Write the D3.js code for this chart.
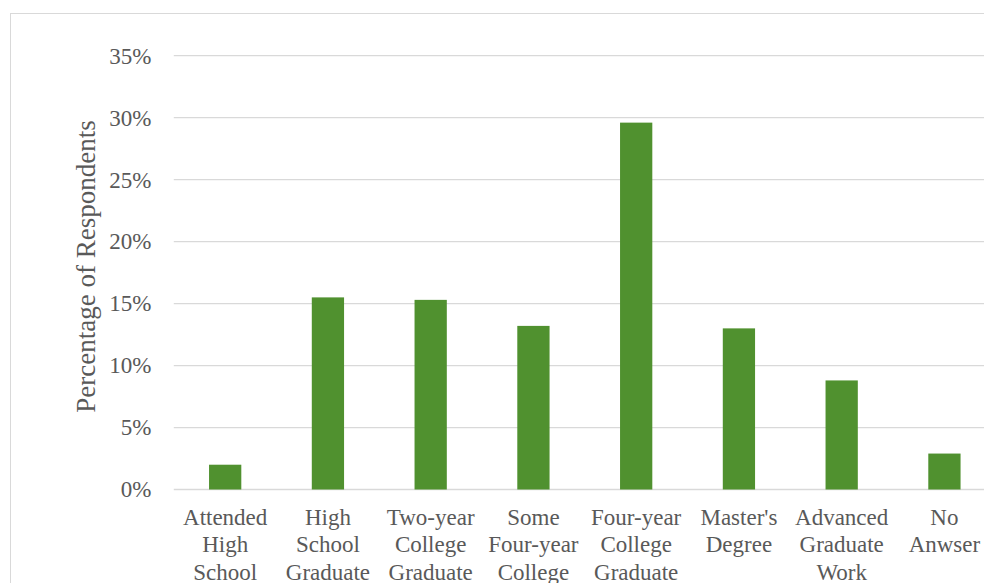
<!DOCTYPE html>
<html>
<head>
<meta charset="utf-8">
<script src="https://cdn.jsdelivr.net/npm/d3@7/dist/d3.min.js"></script>
<style>
  html, body { margin: 0; padding: 0; background: #fff; }
  svg { display: block; }
  text { font-family: "Liberation Serif", "Times New Roman", serif; fill: #595959; }
</style>
</head>
<body>
<svg id="chart" width="984" height="583"></svg>
<script>
// Education level of respondents
const categories = [
  "Attended High School",
  "High School Graduate",
  "Two-year College Graduate",
  "Some Four-year College",
  "Four-year College Graduate",
  "Master's Degree",
  "Advanced Graduate Work",
  "No Anwser"
];
// wrapped label lines for each category
const categoryLines = [
  ["Attended", "High", "School"],
  ["High", "School", "Graduate"],
  ["Two-year", "College", "Graduate"],
  ["Some", "Four-year", "College"],
  ["Four-year", "College", "Graduate"],
  ["Master's", "Degree"],
  ["Advanced", "Graduate", "Work"],
  ["No", "Anwser"]
];
const percentages = [2.0, 15.5, 15.3, 13.2, 29.6, 13.0, 8.8, 2.9];
const yTicks = [0, 5, 10, 15, 20, 25, 30, 35];
const yTitle = "Percentage of Respondents";

const svg = d3.select("#chart");
const fontSize = 23;

// outer chart frame
svg.append("rect")
  .attr("x", 10.5).attr("y", 13.5)
  .attr("width", 1000).attr("height", 600)
  .attr("fill", "none").attr("stroke", "#d9d9d9").attr("stroke-width", 1);

const plot = { left: 173.8, right: 995.8, top: 55.7, bottom: 489.5 };

const x = d3.scaleBand()
  .domain(categories)
  .range([plot.left, plot.right])
  .paddingInner(0.686)
  .paddingOuter(0.343);

const y = d3.scaleLinear()
  .domain([0, 35])
  .range([plot.bottom, plot.top]);

// horizontal gridlines
svg.append("g")
  .selectAll("line")
  .data(yTicks)
  .join("line")
  .attr("x1", plot.left).attr("x2", plot.right)
  .attr("y1", d => y(d)).attr("y2", d => y(d))
  .attr("stroke", "#d9d9d9").attr("stroke-width", 1.3);

// y tick labels
const yAxis = d3.axisLeft(y).tickValues(yTicks).tickSize(0).tickPadding(0)
  .tickFormat(d => d + "%");
const yg = svg.append("g").attr("transform", `translate(151.5,0)`).call(yAxis);
yg.select(".domain").remove();
yg.selectAll("text")
  .attr("font-size", fontSize)
  .attr("font-family", null)
  .attr("fill", "#595959");

// bars
svg.append("g")
  .selectAll("rect")
  .data(percentages)
  .join("rect")
  .attr("x", (d, i) => x(categories[i]))
  .attr("width", x.bandwidth())
  .attr("y", d => y(d))
  .attr("height", d => y(0) - y(d))
  .attr("fill", "#50912f");

// category labels
const lab = svg.append("g");
categoryLines.forEach((lines, i) => {
  const cx = x(categories[i]) + x.bandwidth() / 2;
  const t = lab.append("text")
    .attr("text-anchor", "middle")
    .attr("font-size", fontSize);
  lines.forEach((ln, j) => {
    t.append("tspan").attr("x", cx).attr("y", 525 + j * 27.4).text(ln);
  });
});

// y axis title
svg.append("text")
  .attr("transform", `translate(95,266.5) rotate(-90)`)
  .attr("text-anchor", "middle")
  .attr("font-size", 27)
  .text(yTitle);
</script>
</body>
</html>
